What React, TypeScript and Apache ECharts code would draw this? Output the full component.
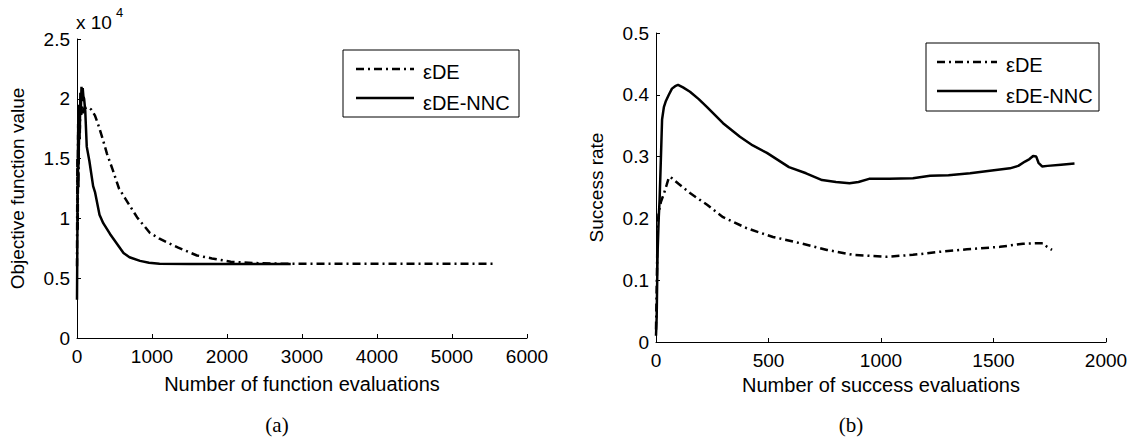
import React, { useEffect, useRef } from "react";
import * as echarts from "echarts";

// Panel (a): objective function value vs number of function evaluations
const aNncX = [0, 8, 15, 22, 30, 38, 45, 52, 60, 68, 76, 85, 95, 110, 130, 165, 215, 240, 300, 350, 440, 530, 620, 700, 840, 960, 1100, 1500, 2000, 2850];
const aNncY = [3200, 12000, 17000, 14500, 19500, 17500, 20500, 19200, 21000, 19800, 20900, 20200, 20000, 19000, 16000, 14800, 12700, 12200, 10300, 9600, 8700, 7900, 7100, 6750, 6450, 6300, 6200, 6180, 6180, 6180];
const aDeX = [0, 5, 10, 15, 20, 28, 36, 45, 55, 65, 80, 100, 147, 190, 240, 290, 340, 400, 480, 560, 640, 800, 970, 1100, 1350, 1600, 1800, 2050, 2350, 2800, 3500, 4500, 5550];
const aDeY = [6000, 15000, 9000, 18000, 12500, 19000, 16500, 20000, 18500, 19500, 18800, 19200, 19300, 19100, 18600, 17700, 16700, 15400, 14000, 12500, 11700, 10100, 8800, 8300, 7550, 6900, 6650, 6380, 6270, 6200, 6200, 6200, 6200];

// Panel (b): success rate vs number of success evaluations
const bNncX = [0, 3, 7, 12, 16, 22, 27, 35, 44, 57, 71, 85, 98, 120, 151, 190, 227, 298, 373, 430, 493, 591, 667, 738, 800, 860, 900, 947, 1036, 1142, 1218, 1300, 1396, 1484, 1573, 1610, 1640, 1660, 1676, 1690, 1700, 1716, 1740, 1800, 1860];
const bNncY = [0.01, 0.04, 0.144, 0.2, 0.23, 0.3, 0.36, 0.38, 0.39, 0.4, 0.41, 0.414, 0.416, 0.412, 0.405, 0.393, 0.38, 0.354, 0.332, 0.318, 0.306, 0.283, 0.273, 0.262, 0.259, 0.257, 0.259, 0.264, 0.264, 0.265, 0.269, 0.27, 0.273, 0.277, 0.281, 0.285, 0.292, 0.296, 0.301, 0.3, 0.29, 0.284, 0.285, 0.287, 0.289];
const bDeX = [0, 2, 5, 7, 12, 22, 36, 48, 58, 71, 100, 151, 227, 298, 404, 520, 640, 760, 876, 1027, 1142, 1262, 1382, 1529, 1631, 1720, 1738, 1760];
const bDeY = [0.02, 0.063, 0.13, 0.186, 0.21, 0.227, 0.241, 0.255, 0.267, 0.265, 0.256, 0.241, 0.222, 0.202, 0.184, 0.17, 0.16, 0.149, 0.141, 0.138, 0.141, 0.146, 0.15, 0.154, 0.159, 0.16, 0.154, 0.149];

const seriesNames = ["εDE", "εDE-NNC"];
const axisTitles = ["Number of function evaluations", "Objective function value", "Number of success evaluations", "Success rate"];
const panelLabels = ["(a)", "(b)"];

const zip = (xs: number[], ys: number[]) => xs.map((x, i) => [x, ys[i]]);

const FONT = "'Liberation Sans', Arial, sans-serif";
const FS_TICK = 19;
const FS_XTITLE = 20;
const FS_YTITLE = 19;
const FS_LEG = 20;
const dashDot = [8, 4, 2, 4];

function axisCommon(titleSize: number) {
  return {
    axisLine: { show: true, lineStyle: { color: "#000", width: 1 } },
    axisTick: { show: true, inside: true, length: 4, lineStyle: { color: "#000" } },
    splitLine: { show: false },
    axisLabel: { color: "#000", fontSize: FS_TICK, fontFamily: FONT, margin: 9, formatter: (v: number) => String(v) },
    nameTextStyle: { color: "#000", fontSize: titleSize, fontFamily: FONT },
  };
}

function legendGraphic(x: number, y: number, w: number, h: number, lineX1: number, lineX2: number, textX: number, row1: number, row2: number) {
  return [
    { type: "rect", shape: { x, y, width: w, height: h }, style: { fill: "#fff", stroke: "#000", lineWidth: 1 }, z: 100 },
    { type: "line", shape: { x1: lineX1, y1: row1, x2: lineX2, y2: row1 }, style: { stroke: "#000", lineWidth: 2.5, lineDash: dashDot }, z: 101 },
    { type: "line", shape: { x1: lineX1, y1: row2, x2: lineX2, y2: row2 }, style: { stroke: "#000", lineWidth: 2.5 }, z: 101 },
    { type: "text", x: textX, y: row1 + 3, style: { text: seriesNames[0], fill: "#000", font: `${FS_LEG}px ${FONT}`, verticalAlign: "middle" }, z: 101 },
    { type: "text", x: textX, y: row2 + 5, style: { text: seriesNames[1], fill: "#000", font: `${FS_LEG}px ${FONT}`, verticalAlign: "middle" }, z: 101 },
  ];
}

export default function App() {
  const ref = useRef<HTMLDivElement>(null);
  useEffect(() => {
    if (!ref.current) return;
    const chart = echarts.init(ref.current, undefined, { renderer: "svg" });
    chart.setOption({
      animation: false,
      backgroundColor: "#fff",
      grid: [
        { left: 77, top: 39, width: 450, height: 299 },
        { left: 656, top: 33, width: 450, height: 309 },
      ],
      xAxis: [
        {
          ...axisCommon(FS_XTITLE), gridIndex: 0, type: "value", min: 0, max: 6000, interval: 1000,
          name: axisTitles[0], nameLocation: "middle", nameGap: 36,
        },
        {
          ...axisCommon(FS_XTITLE), gridIndex: 1, type: "value", min: 0, max: 2000, interval: 500,
          name: axisTitles[2], nameLocation: "middle", nameGap: 33,
        },
      ],
      yAxis: [
        {
          ...axisCommon(FS_YTITLE), gridIndex: 0, type: "value", min: 0, max: 25000, interval: 5000,
          axisLabel: { ...axisCommon(FS_YTITLE).axisLabel, margin: 7, formatter: (v: number) => String(v / 10000) },
          name: axisTitles[1], nameLocation: "middle", nameGap: 50,
        },
        {
          ...axisCommon(FS_YTITLE), gridIndex: 1, type: "value", min: 0, max: 0.5, interval: 0.1,
          axisLabel: { ...axisCommon(FS_YTITLE).axisLabel, margin: 7, formatter: (v: number) => String(+v.toFixed(1)) },
          name: axisTitles[3], nameLocation: "middle", nameGap: 50,
        },
      ],
      series: [
        { type: "line", name: seriesNames[0], xAxisIndex: 0, yAxisIndex: 0, data: zip(aDeX, aDeY), showSymbol: false, symbol: "none", lineStyle: { color: "#000", width: 2.5, type: dashDot }, itemStyle: { color: "#000" } },
        { type: "line", name: seriesNames[1], xAxisIndex: 0, yAxisIndex: 0, data: zip(aNncX, aNncY), showSymbol: false, symbol: "none", lineStyle: { color: "#000", width: 2.5 }, itemStyle: { color: "#000" } },
        { type: "line", name: seriesNames[0], xAxisIndex: 1, yAxisIndex: 1, data: zip(bDeX, bDeY), showSymbol: false, symbol: "none", lineStyle: { color: "#000", width: 2.5, type: dashDot }, itemStyle: { color: "#000" } },
        { type: "line", name: seriesNames[1], xAxisIndex: 1, yAxisIndex: 1, data: zip(bNncX, bNncY), showSymbol: false, symbol: "none", lineStyle: { color: "#000", width: 2.5 }, itemStyle: { color: "#000" } },
      ],
      graphic: [
        ...legendGraphic(343, 50, 176, 67, 356, 414, 423, 69, 98),
        ...legendGraphic(926, 43, 173, 68, 937, 997, 1006, 62, 91),
        { type: "text", x: 76, y: 13, style: { text: "x 10", fill: "#000", font: `${FS_TICK}px ${FONT}` } },
        { type: "text", x: 116, y: 6, style: { text: "4", fill: "#000", font: `13px ${FONT}` } },
        { type: "text", x: 277, y: 425, style: { text: panelLabels[0], fill: "#000", font: `21px 'Liberation Serif', serif`, align: "center", verticalAlign: "middle" } },
        { type: "text", x: 851, y: 425, style: { text: panelLabels[1], fill: "#000", font: `21px 'Liberation Serif', serif`, align: "center", verticalAlign: "middle" } },
      ],
    });
    return () => chart.dispose();
  }, []);
  return <div ref={ref} style={{ position: "absolute", left: 0, top: 0, width: 1134, height: 440 }} />;
}
